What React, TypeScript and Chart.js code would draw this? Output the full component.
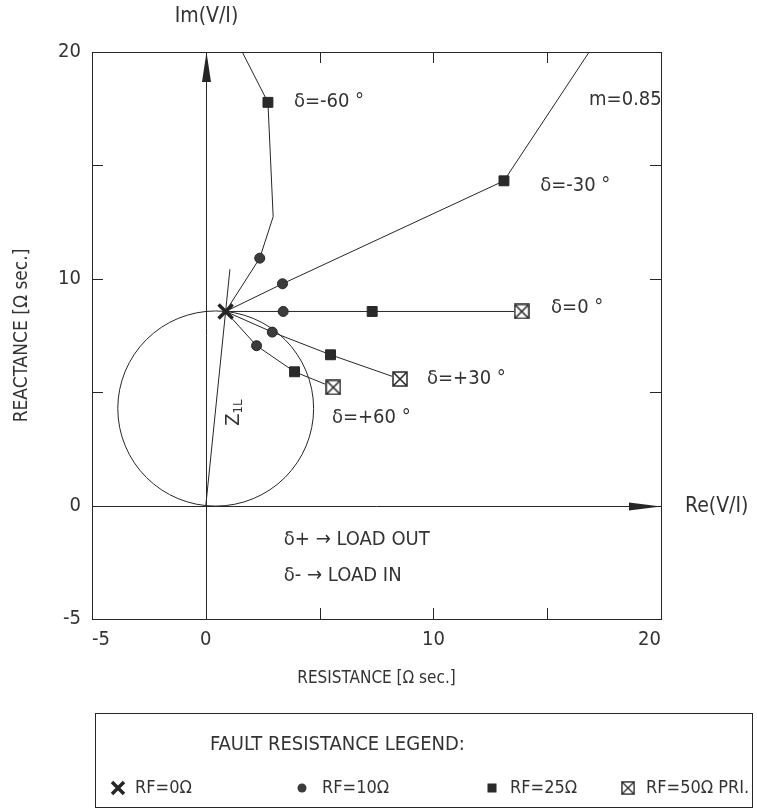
import React, { useEffect, useRef } from 'react';
import { Chart, registerables } from 'chart.js';

Chart.register(...registerables);

const FONT = '"DejaVu Sans Condensed", "Liberation Sans Narrow", "DejaVu Sans", sans-serif';
const INK = '#262626';
const TEXT = '#333333';

// axes
const X_MIN = -5;
const X_MAX = 20;
const Y_MIN = -5;
const Y_MAX = 20;
const TICK_STEP = 5;
const X_TICK_LABELS = [-5, 0, 10, 20];
const Y_TICK_LABELS = [-5, 0, 10, 20];
const X_TITLE = 'RESISTANCE [Ω sec.]';
const Y_TITLE = 'REACTANCE [Ω sec.]';
const IM_LABEL = 'Im(V/I)';
const RE_LABEL = 'Re(V/I)';

// categories
const DELTAS = ['δ=-60 °', 'δ=-30 °', 'δ=0 °', 'δ=+30 °', 'δ=+60 °'];
const RF_NAMES = ['RF=0Ω', 'RF=10Ω', 'RF=25Ω', 'RF=50Ω PRI.'];
const LEGEND_TITLE = 'FAULT RESISTANCE LEGEND:';

// relay reach (RF = 0 fault point) and Z1L line end
const RF0_X = [0.87];
const RF0_Y = [8.56];
const Z1L_END = [1.06, 10.42];

// apparent impedance per δ (order of DELTAS)
const RF10_X = [2.37, 3.37, 3.4, 2.92, 2.23];
const RF10_Y = [10.91, 9.78, 8.56, 7.65, 7.05];
const BEND_X = [2.96, null, null, null, null];
const BEND_Y = [12.74, null, null, null, null];
const RF25_X = [2.73, 13.1, 7.31, 5.48, 3.9];
const RF25_Y = [17.78, 14.32, 8.56, 6.65, 5.9];
const RF50_X = [0.94, 17.7, 13.88, 8.53, 5.6];
const RF50_Y = [21.3, 21.3, 8.56, 5.58, 5.21];

// annotation text anchors (data units, left/middle)
const DELTA_LABEL_X = [3.87, 14.69, 15.17, 9.72, 5.54];
const DELTA_LABEL_Y = [17.8, 14.1, 8.72, 5.6, 3.88];
const NOTES = ['m=0.85', 'δ+ → LOAD OUT', 'δ- → LOAD IN'];
const NOTE_X = [16.84, 3.43, 3.43];
const NOTE_Y = [17.9, -1.5, -3.08];
const Z1L_LABEL = [1.23, 4.14];

function makeBoxCross(size: number): HTMLCanvasElement {
  const c = document.createElement('canvas');
  c.width = size;
  c.height = size;
  const g = c.getContext('2d')!;
  g.fillStyle = '#ffffff';
  g.fillRect(0, 0, size, size);
  g.strokeStyle = INK;
  g.lineWidth = 1.5;
  g.strokeRect(1, 1, size - 2, size - 2);
  g.beginPath();
  g.moveTo(1.5, 1.5);
  g.lineTo(size - 1.5, size - 1.5);
  g.moveTo(size - 1.5, 1.5);
  g.lineTo(1.5, size - 1.5);
  g.stroke();
  return c;
}

export default function App() {
  const ref = useRef<HTMLCanvasElement>(null);

  useEffect(() => {
    const canvas = ref.current!;
    const boxCross = makeBoxCross(16);

    const lineSets = DELTAS.map((d, i) => {
      const pts: { x: number; y: number }[] = [
        { x: RF0_X[0], y: RF0_Y[0] },
        { x: RF10_X[i], y: RF10_Y[i] },
      ];
      if (BEND_X[i] != null) pts.push({ x: BEND_X[i] as number, y: BEND_Y[i] as number });
      pts.push({ x: RF25_X[i], y: RF25_Y[i] });
      pts.push({ x: RF50_X[i], y: RF50_Y[i] });
      return {
        label: d,
        data: pts,
        showLine: true,
        borderColor: INK,
        borderWidth: 1,
        pointRadius: 0,
        tension: 0,
        order: 2,
      };
    });

    const toPts = (xs: number[], ys: number[]) => xs.map((x, i) => ({ x, y: ys[i] }));

    const markerSets = [
      {
        label: RF_NAMES[0],
        data: toPts(RF0_X, RF0_Y),
        pointStyle: 'crossRot',
        pointRadius: 10,
        borderWidth: 3.5,
        borderColor: INK,
        backgroundColor: INK,
        showLine: false,
        order: 0,
      },
      {
        label: RF_NAMES[1],
        data: toPts(RF10_X, RF10_Y),
        pointStyle: 'circle',
        pointRadius: 5,
        borderWidth: 1,
        borderColor: INK,
        backgroundColor: '#3c3c3c',
        showLine: false,
        order: 0,
      },
      {
        label: RF_NAMES[2],
        data: toPts(RF25_X, RF25_Y),
        pointStyle: 'rect',
        pointRadius: 7,
        borderWidth: 1,
        borderColor: INK,
        backgroundColor: '#2a2a2a',
        showLine: false,
        order: 0,
      },
      {
        label: RF_NAMES[3],
        data: toPts(RF50_X, RF50_Y),
        pointStyle: boxCross,
        pointRadius: 8,
        showLine: false,
        order: 0,
      },
    ];

    const decor = {
      id: 'decor',
      beforeDatasetsDraw(chart: any) {
        const { ctx, chartArea: ca, scales } = chart;
        const xs = scales.x;
        const ys = scales.y;
        ctx.save();
        ctx.strokeStyle = INK;
        ctx.lineWidth = 1;
        // frame
        ctx.strokeRect(ca.left + 0.5, ca.top + 0.5, ca.right - ca.left, ca.bottom - ca.top);
        // inward ticks
        const TL = 11;
        ctx.beginPath();
        for (let v = X_MIN + TICK_STEP; v < X_MAX; v += TICK_STEP) {
          if (v === 0) continue;
          const px = Math.round(xs.getPixelForValue(v)) + 0.5;
          ctx.moveTo(px, ca.bottom);
          ctx.lineTo(px, ca.bottom - TL);
          ctx.moveTo(px, ca.top);
          ctx.lineTo(px, ca.top + TL);
        }
        for (let v = Y_MIN + TICK_STEP; v < Y_MAX; v += TICK_STEP) {
          if (v === 0) continue;
          const py = Math.round(ys.getPixelForValue(v)) + 0.5;
          ctx.moveTo(ca.left, py);
          ctx.lineTo(ca.left + TL, py);
          ctx.moveTo(ca.right, py);
          ctx.lineTo(ca.right - TL, py);
        }
        ctx.stroke();
        // axes through origin
        const x0 = Math.round(xs.getPixelForValue(0)) + 0.5;
        const y0 = Math.round(ys.getPixelForValue(0)) + 0.5;
        ctx.beginPath();
        ctx.moveTo(ca.left, y0);
        ctx.lineTo(ca.right, y0);
        ctx.moveTo(x0, ca.bottom);
        ctx.lineTo(x0, ca.top);
        ctx.stroke();
        // Z1L line
        ctx.beginPath();
        ctx.moveTo(xs.getPixelForValue(0), ys.getPixelForValue(0));
        ctx.lineTo(xs.getPixelForValue(Z1L_END[0]), ys.getPixelForValue(Z1L_END[1]));
        ctx.stroke();
        // mho circle with diameter 0 -> Z1L reach
        const cx = RF0_X[0] / 2;
        const cy = RF0_Y[0] / 2;
        const r = Math.hypot(RF0_X[0], RF0_Y[0]) / 2;
        const pcx = xs.getPixelForValue(cx);
        const pcy = ys.getPixelForValue(cy);
        const rx = Math.abs(xs.getPixelForValue(cx + r) - pcx);
        const ry = Math.abs(ys.getPixelForValue(cy + r) - pcy);
        ctx.beginPath();
        ctx.ellipse(pcx, pcy, rx, ry, 0, 0, Math.PI * 2);
        ctx.stroke();
        ctx.restore();
      },
      afterDatasetsDraw(chart: any) {
        const { ctx, chartArea: ca, scales } = chart;
        const xs = scales.x;
        const ys = scales.y;
        const x0 = Math.round(xs.getPixelForValue(0)) + 0.5;
        const y0 = Math.round(ys.getPixelForValue(0)) + 0.5;
        ctx.save();
        ctx.fillStyle = INK;
        // arrowheads
        ctx.beginPath();
        ctx.moveTo(x0, ca.top);
        ctx.lineTo(x0 - 4.5, ca.top + 30);
        ctx.lineTo(x0 + 4.5, ca.top + 30);
        ctx.closePath();
        ctx.fill();
        ctx.beginPath();
        ctx.moveTo(ca.right, y0);
        ctx.lineTo(ca.right - 32, y0 - 4);
        ctx.lineTo(ca.right - 32, y0 + 4);
        ctx.closePath();
        ctx.fill();

        // texts
        ctx.fillStyle = TEXT;
        ctx.textBaseline = 'middle';
        ctx.textAlign = 'left';
        ctx.font = `20px ${FONT}`;
        DELTAS.forEach((d, i) => {
          ctx.fillText(d, xs.getPixelForValue(DELTA_LABEL_X[i]), ys.getPixelForValue(DELTA_LABEL_Y[i]));
        });
        NOTES.forEach((n, i) => {
          ctx.fillText(n, xs.getPixelForValue(NOTE_X[i]), ys.getPixelForValue(NOTE_Y[i]));
        });
        // axis names
        ctx.font = `21px ${FONT}`;
        ctx.textAlign = 'center';
        ctx.fillText(IM_LABEL, x0, ca.top - 35);
        ctx.textAlign = 'left';
        ctx.fillText(RE_LABEL, ca.right + 24, y0);
        // Z1L rotated
        ctx.save();
        ctx.translate(xs.getPixelForValue(Z1L_LABEL[0]), ys.getPixelForValue(Z1L_LABEL[1]));
        ctx.rotate(-Math.PI / 2);
        ctx.textAlign = 'left';
        ctx.font = `20px ${FONT}`;
        const zw = ctx.measureText('Z').width;
        ctx.fillText('Z', -14, 0);
        ctx.font = `13px ${FONT}`;
        ctx.fillText('1L', -14 + zw, 5);
        ctx.restore();

        // legend box
        const H = chart.height;
        const bl = 95;
        const br = 752;
        const bt = 713;
        const bb = H - 3;
        ctx.strokeStyle = INK;
        ctx.lineWidth = 1;
        ctx.strokeRect(bl + 0.5, bt + 0.5, br - bl, bb - bt);
        ctx.fillStyle = TEXT;
        ctx.font = `20px ${FONT}`;
        ctx.textAlign = 'left';
        ctx.fillText(LEGEND_TITLE, 210, 745);
        const iy = 788;
        const markX = [118, 302, 492, 628];
        const textX = [135, 322, 510, 646];
        // X mark
        ctx.strokeStyle = INK;
        ctx.lineWidth = 3.5;
        ctx.beginPath();
        ctx.moveTo(markX[0] - 6, iy - 6);
        ctx.lineTo(markX[0] + 6, iy + 6);
        ctx.moveTo(markX[0] + 6, iy - 6);
        ctx.lineTo(markX[0] - 6, iy + 6);
        ctx.stroke();
        ctx.fillStyle = '#3c3c3c';
        ctx.beginPath();
        ctx.arc(markX[1], iy, 4.5, 0, Math.PI * 2);
        ctx.fill();
        ctx.fillStyle = '#2a2a2a';
        ctx.fillRect(markX[2] - 4.5, iy - 4.5, 9, 9);
        ctx.drawImage(boxCross, markX[3] - 7, iy - 7, 14, 14);
        ctx.fillStyle = TEXT;
        ctx.font = `18px ${FONT}`;
        RF_NAMES.forEach((n, i) => ctx.fillText(n, textX[i], iy));
        ctx.restore();
      },
    };

    const chart = new Chart(canvas, {
      type: 'scatter',
      data: { datasets: [...markerSets, ...lineSets] as any },
      options: {
        responsive: false,
        animation: false,
        devicePixelRatio: 1,
        events: [],
        layout: { padding: { left: 0, top: 52, right: 96, bottom: 111 } },
        plugins: { legend: { display: false }, tooltip: { enabled: false } },
        scales: {
          x: {
            type: 'linear',
            min: X_MIN,
            max: X_MAX,
            grid: { display: false, drawTicks: false },
            border: { display: false },
            ticks: {
              stepSize: TICK_STEP,
              autoSkip: false,
              maxRotation: 0,
              align: 'inner',
              padding: 9,
              color: TEXT,
              font: { family: FONT, size: 20 },
              callback: (v: any) => (X_TICK_LABELS.includes(Number(v)) ? String(v) : ''),
            },
            title: {
              display: true,
              text: X_TITLE,
              color: TEXT,
              font: { family: FONT, size: 17 },
              padding: { top: 0, bottom: 10 },
            },
            afterFit: (s: any) => {
              s.height = 80;
            },
          },
          y: {
            type: 'linear',
            min: Y_MIN,
            max: Y_MAX,
            grid: { display: false, drawTicks: false },
            border: { display: false },
            ticks: {
              stepSize: TICK_STEP,
              autoSkip: false,
              padding: 11,
              color: TEXT,
              font: { family: FONT, size: 20 },
              callback: (v: any) => (Y_TICK_LABELS.includes(Number(v)) ? String(v) : ''),
            },
            title: {
              display: true,
              text: Y_TITLE,
              color: TEXT,
              font: { family: FONT, size: 19 },
              padding: { top: 11, bottom: 0 },
            },
            afterFit: (s: any) => {
              s.width = 92;
            },
          },
        },
      } as any,
      plugins: [decor],
    });
    return () => chart.destroy();
  }, []);

  return (
    <div style={{ position: 'absolute', left: 0, top: 0, width: 757, height: 810, background: '#fff' }}>
      <canvas ref={ref} width={757} height={810} style={{ display: 'block', width: 757, height: 810 }} />
    </div>
  );
}
